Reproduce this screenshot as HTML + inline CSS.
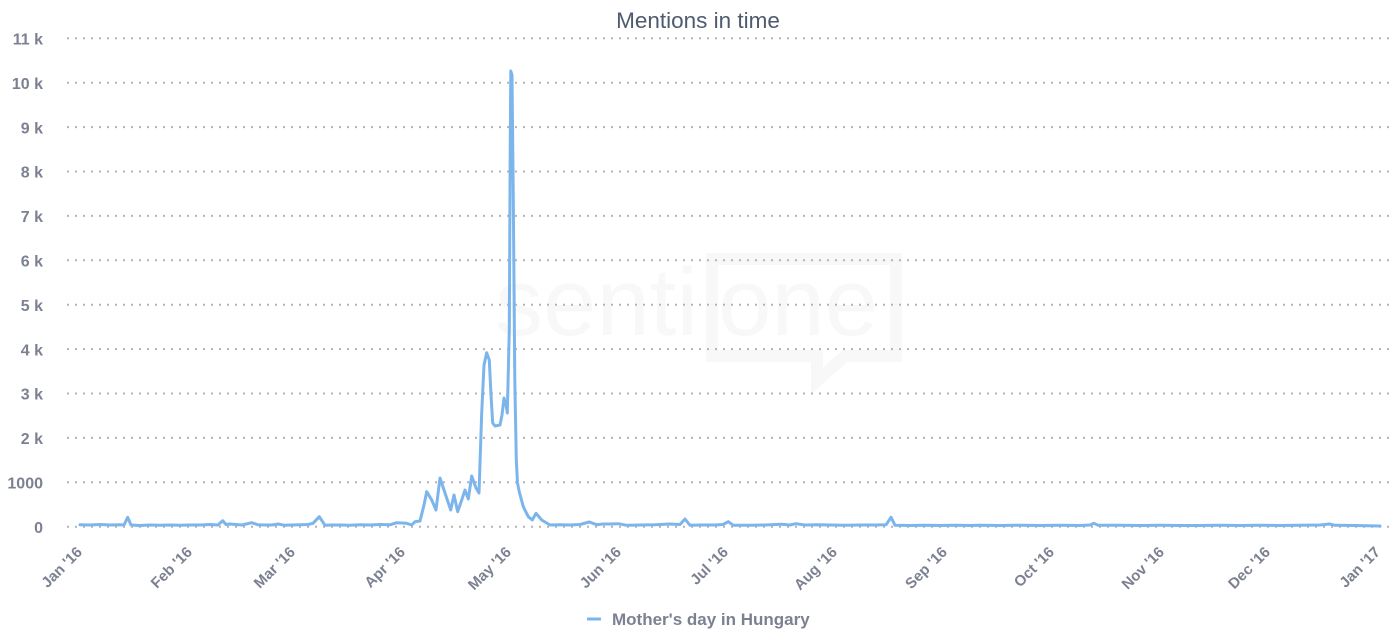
<!DOCTYPE html>
<html>
<head>
<meta charset="utf-8">
<style>
  html,body{margin:0;padding:0;background:#fff;}
  svg{display:block;}
  .yl{font-family:"Liberation Sans",sans-serif;font-size:16px;font-weight:bold;fill:#7c8192;}
  .xl{font-family:"Liberation Sans",sans-serif;font-size:15px;font-weight:bold;fill:#7c8192;}
</style>
</head>
<body>
<svg width="1396" height="640" viewBox="0 0 1396 640" xmlns="http://www.w3.org/2000/svg">
  <rect width="1396" height="640" fill="#fff"/>
  <!-- watermark -->
  <g>
    <text x="495" y="335" font-family="Liberation Sans, sans-serif" font-size="96" fill="#f8f8f8">senti</text>
    <text x="718" y="335" font-family="Liberation Sans, sans-serif" font-size="96" fill="#f8f8f8">one</text>
  </g>
  <path d="M712 259 H896 V356 H845 L817 381 V356 H712 Z" fill="none" stroke="#f8f8f8" stroke-width="12"/>

  <!-- title -->
  <text x="698" y="28" text-anchor="middle" font-family="Liberation Sans, sans-serif" font-size="22.5" fill="#4d5b6e">Mentions in time</text>

  <!-- grid -->
  <g stroke="#b4b4b4" stroke-width="2" stroke-dasharray="2,6">
    <line x1="67" x2="1390" y1="38.3" y2="38.3"/>
    <line x1="67" x2="1390" y1="82.7" y2="82.7"/>
    <line x1="67" x2="1390" y1="127.1" y2="127.1"/>
    <line x1="67" x2="1390" y1="171.5" y2="171.5"/>
    <line x1="67" x2="1390" y1="215.9" y2="215.9"/>
    <line x1="67" x2="1390" y1="260.3" y2="260.3"/>
    <line x1="67" x2="1390" y1="304.7" y2="304.7"/>
    <line x1="67" x2="1390" y1="349.1" y2="349.1"/>
    <line x1="67" x2="1390" y1="393.5" y2="393.5"/>
    <line x1="67" x2="1390" y1="437.9" y2="437.9"/>
    <line x1="67" x2="1390" y1="482.3" y2="482.3"/>
    <line x1="67" x2="1390" y1="526.7" y2="526.7"/>
  </g>

  <!-- y labels -->
  <g class="yl" text-anchor="end">
    <text x="43" y="44.5">11 k</text>
    <text x="43" y="88.9">10 k</text>
    <text x="43" y="133.3">9 k</text>
    <text x="43" y="177.7">8 k</text>
    <text x="43" y="222.1">7 k</text>
    <text x="43" y="266.5">6 k</text>
    <text x="43" y="310.9">5 k</text>
    <text x="43" y="355.3">4 k</text>
    <text x="43" y="399.7">3 k</text>
    <text x="43" y="444.1">2 k</text>
    <text x="43" y="488.5">1000</text>
    <text x="43" y="532.9">0</text>
  </g>

  <!-- x labels -->
  <g class="xl" text-anchor="end">
    <text x="83" y="553" transform="rotate(-45 83 553)">Jan '16</text>
    <text x="193" y="553" transform="rotate(-45 193 553)">Feb '16</text>
    <text x="296" y="553" transform="rotate(-45 296 553)">Mar '16</text>
    <text x="406" y="553" transform="rotate(-45 406 553)">Apr '16</text>
    <text x="512" y="553" transform="rotate(-45 512 553)">May '16</text>
    <text x="622" y="553" transform="rotate(-45 622 553)">Jun '16</text>
    <text x="729" y="553" transform="rotate(-45 729 553)">Jul '16</text>
    <text x="838" y="553" transform="rotate(-45 838 553)">Aug '16</text>
    <text x="948" y="553" transform="rotate(-45 948 553)">Sep '16</text>
    <text x="1055" y="553" transform="rotate(-45 1055 553)">Oct '16</text>
    <text x="1165" y="553" transform="rotate(-45 1165 553)">Nov '16</text>
    <text x="1271" y="553" transform="rotate(-45 1271 553)">Dec '16</text>
    <text x="1381" y="553" transform="rotate(-45 1381 553)">Jan '17</text>
  </g>

  <!-- series -->
  <polyline fill="none" stroke="#7cb5ec" stroke-width="3" stroke-linejoin="round" stroke-linecap="round" points="
80,524.7 90,525 100,524.5 110,525 120,524.8 124,525 127.7,517.3 131,525 140,525.5 150,525 160,525.2 170,525 180,525.3 190,525 200,525 210,524.5 218,525 222.7,520.7 226,524.5 230,524 236,524.5 242,525 251.7,522.7 258,524.8 265,525 272,525 278.3,524 284,525.2 292,525 300,524.8 308,524.5 313,523.3 319.3,516.7 325,525.3 332,525 340,525 350,525.2 360,524.8 370,525 380,524.5 390,524.8 396.7,522.7 402,523 406.7,523.3 411.7,525 415,521.7 420,521 424,505 426.7,491.7 431.7,500 436,510 440,478 445,493 450.7,510 454,495 457.7,511.7 461.7,500 465,490 468.3,499 471.7,476 476,488 479,493 481.7,413 484,365 486.7,352.7 489.3,360 491,395 492.7,423 495,426 500,425 502,415 504,398 506,405 507.3,413 509.3,330 510.2,150 510.8,71 512,75 513.3,200 514.8,380 516.3,460 517.5,483 519.3,492 523.3,506.7 528.3,516.7 532.3,520 536,513.3 541.7,520 550,525 560,524.7 570,525 580,524.5 589.3,522 596.7,524.7 603,524 610,524 618.3,523.7 626.7,525.3 640,525 655,524.8 670,524 680,524.5 685,519 690,525.3 700,525 715,525 723,524.5 728.3,521.7 733.3,525.3 750,525.2 765,525 781.7,524.3 790,525 795.7,523.7 805,525 816.7,524.7 830,525 845,525.3 860,525 875,525 886,524.8 891,517.3 895,525.3 910,525.5 925,525.2 940,525.5 955,525.3 970,525.5 980,525.3 1000,525.5 1020,525.2 1040,525.5 1060,525.3 1080,525.5 1090,525 1094,523.3 1098,525.2 1120,525.3 1140,525.5 1160,525.3 1180,525.5 1200,525.5 1220,525.3 1240,525.5 1260,525.3 1280,525.5 1300,525.3 1320,525 1329.3,524 1335,525.3 1355,525.5 1380,526"/>

  <!-- legend -->
  <line x1="587" x2="601" y1="619" y2="619" stroke="#7cb5ec" stroke-width="3"/>
  <text x="612" y="625" font-family="Liberation Sans, sans-serif" font-size="17" font-weight="bold" fill="#7c8192">Mother's day in Hungary</text>
</svg>
</body>
</html>
